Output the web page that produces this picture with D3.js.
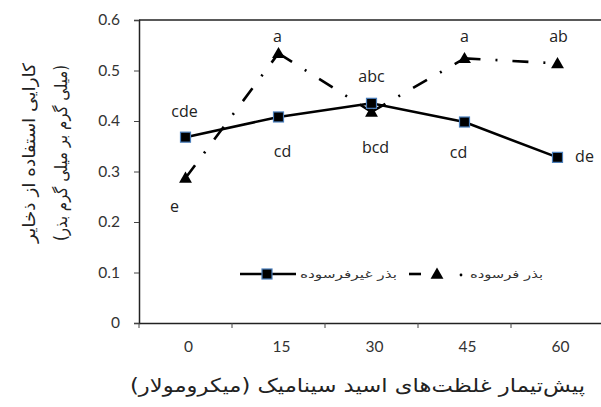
<!DOCTYPE html>
<html><head><meta charset="utf-8">
<script src="https://cdn.jsdelivr.net/npm/d3@7"></script>
<style>body{margin:0;background:#fff}svg{display:block}</style>
</head><body>
<script>
const categories = ["0","15","30","45","60"];
const unagedValues = [0.368, 0.408, 0.435, 0.398, 0.328];
const agedValues = [0.287, 0.534, 0.418, 0.524, 0.514];
const unagedLetters = ["cde","cd","abc","cd","de"];
const agedLetters = ["e","a","bcd","a","ab"];
const yTicks = [0,0.1,0.2,0.3,0.4,0.5,0.6];
const seriesNames = ["بذر غیرفرسوده","بذر فرسوده"];
const yTitle1 = "کارایی استفاده از ذخایر";
const yTitle2 = "(میلی گرم بر میلی گرم بذر)";
const xTitle = "پیش‌تیمار غلظت‌های اسید سینامیک (میکرومولار)";

(function(){
const W=601,H=407;
const svg=d3.select("body").append("svg").attr("width",W).attr("height",H);
const pL=139, pR=604, pT=20, pB=323;
const x=d3.scaleBand().domain(categories).range([pL,pR]);
const y=d3.scaleLinear().domain([0,0.6]).range([pB,pT]);
const cx=c=>x(c)+x.bandwidth()/2;
const numFont="Lato, 'Liberation Sans', sans-serif";
const faFont="'DejaVu Sans', sans-serif";

svg.append("line").attr("x1",pL).attr("x2",pR).attr("y1",pT).attr("y2",pT)
  .attr("stroke","#222").attr("stroke-width",1.5);

const ya=svg.append("g").attr("transform",`translate(${pL},0)`)
  .call(d3.axisLeft(y).tickValues(yTicks).tickSize(5).tickPadding(14).tickFormat(d=>d===0?"0":d3.format(".1f")(d)));
ya.select(".domain").attr("stroke","#222").attr("stroke-width",1.5);
ya.selectAll(".tick line").attr("stroke","#444");
ya.selectAll("text").attr("font-family",numFont).attr("font-size",15.5).attr("fill","#333");

const xa=svg.append("g").attr("transform",`translate(0,${pB})`)
  .call(d3.axisBottom(x).tickSize(0).tickPadding(18));
xa.select(".domain").attr("stroke","#222").attr("stroke-width",1.5);
xa.selectAll("text").attr("font-family",numFont).attr("font-size",15.5).attr("fill","#333").attr("dx",3);
const bounds=categories.map(c=>x(c));
xa.selectAll(".btick").data(bounds).enter().append("line")
  .attr("x1",d=>d).attr("x2",d=>d).attr("y1",0).attr("y2",5).attr("stroke","#444");

const line=d3.line().x(d=>cx(d.c)).y(d=>y(d.v));
const dash="16,15,2,15";
const agedPts=agedValues.map((v,i)=>({c:categories[i],v}));
const segs=d3.pairs(agedPts);
svg.selectAll(".seg").data(segs).enter().append("path").attr("d",line).attr("fill","none")
  .attr("stroke","#000").attr("stroke-width",2.6).attr("stroke-dasharray",dash);
svg.append("path").datum(unagedValues.map((v,i)=>({c:categories[i],v}))).attr("d",line).attr("fill","none")
  .attr("stroke","#000").attr("stroke-width",2.6);

const tri=d3.symbol().type(d3.symbolTriangle).size(72);
svg.selectAll(".tri").data(agedValues).enter().append("path")
  .attr("d",tri).attr("transform",(d,i)=>`translate(${cx(categories[i])},${y(d)+1})`).attr("fill","#000");
svg.selectAll(".sq").data(unagedValues).enter().append("rect")
  .attr("x",(d,i)=>cx(categories[i])-5).attr("y",d=>y(d)-5).attr("width",10).attr("height",10)
  .attr("fill","#000").attr("stroke","#4a7ebb").attr("stroke-width",1.2);

const unagedOff=[[-1,-20],[4,40],[0,-21],[-6,36],[27,5]];
const agedOff=[[-11,34],[-1,-11],[4,41],[0,-16],[1,-21]];
const lf="'Open Sans', 'DejaVu Sans', sans-serif";
svg.selectAll(".lu").data(unagedLetters).enter().append("text")
  .attr("x",(d,i)=>cx(categories[i])+unagedOff[i][0]).attr("y",(d,i)=>y(unagedValues[i])+unagedOff[i][1])
  .attr("text-anchor","middle").attr("font-family",lf).attr("font-size",16).attr("fill","#222").text(d=>d);
svg.selectAll(".la").data(agedLetters).enter().append("text")
  .attr("x",(d,i)=>cx(categories[i])+agedOff[i][0]).attr("y",(d,i)=>y(agedValues[i])+agedOff[i][1])
  .attr("text-anchor","middle").attr("font-family",lf).attr("font-size",16).attr("fill","#222").text(d=>d);

const ly=274;
const lg=svg.append("g");
lg.append("line").attr("x1",240).attr("x2",296).attr("y1",ly).attr("y2",ly).attr("stroke","#000").attr("stroke-width",2.6);
lg.append("rect").attr("x",262).attr("y",ly-5).attr("width",10).attr("height",10).attr("fill","#000").attr("stroke","#4a7ebb").attr("stroke-width",1.2);
lg.append("text").attr("x",300).attr("y",ly+4).attr("textLength",97).attr("lengthAdjust","spacingAndGlyphs")
  .attr("font-family",faFont).attr("font-size",11).attr("fill","#333").text(seriesNames[0]);
lg.append("line").attr("x1",409).attr("x2",421).attr("y1",ly).attr("y2",ly).attr("stroke","#000").attr("stroke-width",2.6);
lg.append("path").attr("d",tri).attr("transform",`translate(437,${ly+1})`).attr("fill","#000");
lg.append("circle").attr("cx",461).attr("cy",ly+1).attr("r",1.4).attr("fill","#000");
lg.append("text").attr("x",470).attr("y",ly+4).attr("textLength",73).attr("lengthAdjust","spacingAndGlyphs")
  .attr("font-family",faFont).attr("font-size",11).attr("fill","#333").text(seriesNames[1]);

const yt=svg.append("g").attr("transform","translate(0,153)");
yt.append("text").attr("transform","translate(29,0) rotate(-90)").attr("x",-90).attr("textLength",180).attr("lengthAdjust","spacingAndGlyphs")
  .attr("font-family",faFont).attr("font-size",17).attr("fill","#222").attr("dy","0.35em").text(yTitle1);
yt.append("text").attr("transform","translate(61,0) rotate(-90)").attr("x",-88).attr("textLength",176).attr("lengthAdjust","spacingAndGlyphs")
  .attr("font-family",faFont).attr("font-size",17).attr("fill","#222").attr("dy","0.35em").text(yTitle2);
svg.append("text").attr("x",130).attr("y",385).attr("dy","0.35em").attr("textLength",455).attr("lengthAdjust","spacingAndGlyphs")
  .attr("font-family",faFont).attr("font-size",19).attr("fill","#222").text(xTitle);
})();
</script>
</body></html>
